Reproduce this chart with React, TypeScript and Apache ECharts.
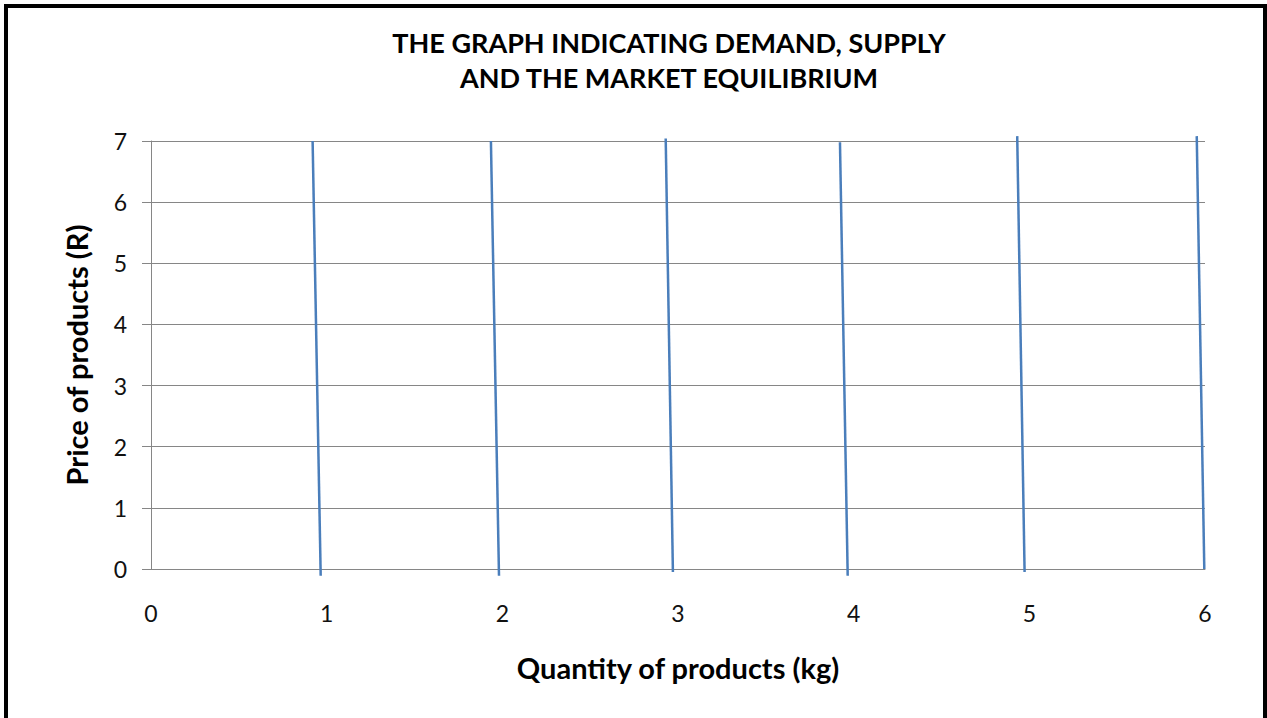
import React, { useEffect, useRef } from "react";
import * as echarts from "echarts";

const titleLines = ["THE GRAPH INDICATING DEMAND, SUPPLY", "AND THE MARKET EQUILIBRIUM"];
const xAxisName = "Quantity of products (kg)";
const yAxisName = "Price of products (R)";

// Each series: [topX, topY], [bottomX, bottomY]
const line1 = [[0.92, 7.0], [0.966, -0.11]];
const line2 = [[1.935, 7.0], [1.981, -0.11]];
const line3 = [[2.93, 7.04], [2.971, -0.05]];
const line4 = [[3.922, 6.98], [3.966, -0.11]];
const line5 = [[4.931, 7.08], [4.973, -0.05]];
const line6 = [[5.953, 7.08], [5.996, 0.0]];
const allLines = [line1, line2, line3, line4, line5, line6];

const FONT = "Lato, 'Open Sans', sans-serif";

export default function App() {
  const ref = useRef<HTMLDivElement>(null);
  useEffect(() => {
    if (!ref.current) return;
    const chart = echarts.init(ref.current, undefined, { renderer: "svg" });
    chart.setOption({
      animation: false,
      backgroundColor: "#ffffff",
      textStyle: { fontFamily: FONT },
      graphic: [
        {
          type: "rect",
          shape: { x: 6, y: 6, width: 1259, height: 730 },
          style: { fill: "none", stroke: "#000", lineWidth: 4 },
          silent: true,
        },
        {
          type: "text",
          x: 669,
          y: 29,
          style: {
            text: titleLines[0],
            textAlign: "center",
            font: `bold 27px ${FONT}`,
            fill: "#000",
          },
        },
        {
          type: "text",
          x: 669,
          y: 64,
          style: {
            text: titleLines[1],
            textAlign: "center",
            font: `bold 27px ${FONT}`,
            fill: "#000",
          },
        },
      ],
      grid: { left: 151, right: 62, top: 141, bottom: 149, containLabel: false },
      xAxis: {
        type: "value",
        min: 0,
        max: 6,
        interval: 1,
        name: xAxisName,
        nameLocation: "middle",
        nameGap: 84,
        nameTextStyle: { fontSize: 29, fontWeight: "bold", color: "#000", fontFamily: FONT },
        axisLine: { show: true, lineStyle: { color: "#868686", width: 1 } },
        axisTick: { show: false },
        splitLine: { show: false },
        axisLabel: { margin: 32, fontSize: 23, color: "#111", fontFamily: FONT },
      },
      yAxis: {
        type: "value",
        min: 0,
        max: 7,
        interval: 1,
        name: yAxisName,
        nameLocation: "middle",
        nameGap: 60,
        nameRotate: 90,
        nameTextStyle: { fontSize: 29, fontWeight: "bold", color: "#000", fontFamily: FONT },
        axisLine: { show: true, lineStyle: { color: "#868686", width: 1 } },
        axisTick: { show: true, length: 9, lineStyle: { color: "#868686" } },
        splitLine: { show: true, lineStyle: { color: "#868686", width: 1 } },
        axisLabel: { margin: 24, fontSize: 23, color: "#111", fontFamily: FONT },
      },
      series: allLines.map((d, i) => ({
        name: `Line ${i + 1}`,
        type: "line",
        data: d,
        showSymbol: false,
        symbol: "none",
        clip: false,
        lineStyle: { color: "#4a7ebb", width: 2.5 },
      })),
    });
    return () => chart.dispose();
  }, []);
  return (
    <div
      ref={ref}
      style={{ position: "fixed", left: 0, top: 0, width: 1267, height: 718 }}
    />
  );
}
